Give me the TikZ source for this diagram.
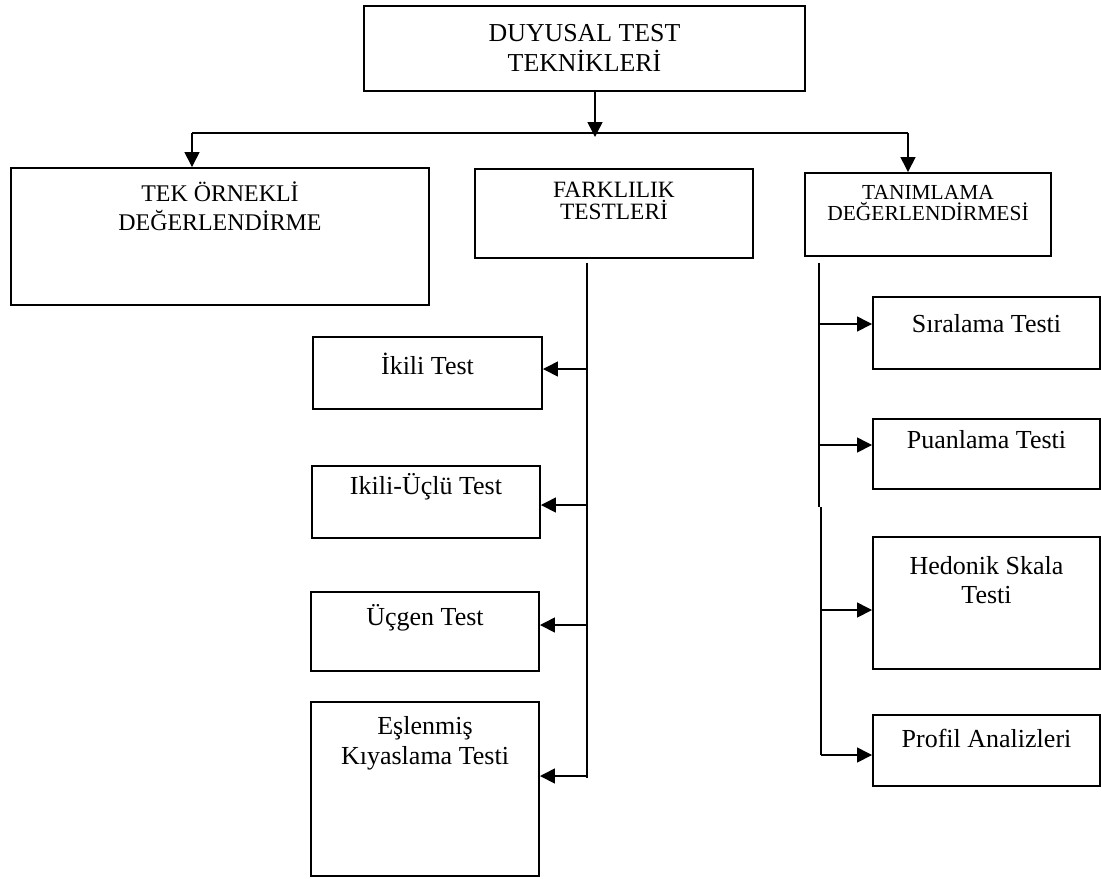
\documentclass[tikz,border=0pt]{standalone}
\usepackage{fontspec}
\setmainfont{Liberation Serif}
\usetikzlibrary{arrows.meta}
\tikzset{box/.style 2 args = {draw, line width = 1.1pt, inner sep = 0, minimum width = #1, minimum height = #2}}
\tikzset{lbl/.style = {anchor = center, align = center, inner sep = 0}}
\tikzset{fhead/.style = {font = \fontsize{14.7}{17}\selectfont}}
\tikzset{fmid/.style = {font = \fontsize{13.6}{16.4}\selectfont}}
\tikzset{fsub/.style = {font = \fontsize{13.3}{12.5}\selectfont}}
\tikzset{fsmall/.style = {font = \fontsize{12.2}{11.4}\selectfont}}
\tikzset{ftest/.style = {font = \fontsize{14.8}{17}\selectfont}}
\tikzset{line/.style = {line width = 0.85pt}}
\tikzset{arr/.style = {line width = 0.85pt, -{Triangle[length = 3mm, width = 3mm]}}}

\begin{document}
\begin{tikzpicture}[x = 0.2mm, y = -0.2mm]
    \useasboundingbox (0, 0) rectangle (1101, 878);

    \node[box = {88.2mm}{17mm}, label = {[lbl, fhead, yshift = -8.6mm]north:{DUYUSAL TEST\\TEKNİKLERİ}}] (tekn) at (584.5, 48.5) {};

    \node[box = {83.6mm}{27.4mm}, label = {[lbl, fmid, yshift = -7.9mm]north:{TEK ÖRNEKLİ\\DEĞERLENDİRME}}] (tek) at (220, 236.5) {};
    \node[box = {55.6mm}{17.8mm}, label = {[lbl, fsub, yshift = -6.6mm]north:{FARKLILIK\\TESTLERİ}}] (fark) at (614, 213.5) {};
    \node[box = {49.2mm}{16.6mm}, label = {[lbl, fsmall, yshift = -6.2mm]north:{TANIMLAMA\\DEĞERLENDİRMESİ}}] (tanim) at (928, 214.5) {};

    \node[box = {45.8mm}{14.4mm}, label = {[lbl, ftest, yshift = -5.6mm]north:{İkili Test}}] (ikili) at (427.5, 373) {};
    \node[box = {45.6mm}{14.4mm}, label = {[lbl, ftest, yshift = -4.4mm]north:{Ikili-Üçlü Test}}] (ikiliuclu) at (426, 502) {};
    \node[box = {45.6mm}{15.8mm}, label = {[lbl, ftest, yshift = -5.4mm]north:{Üçgen Test}}] (ucgen) at (425, 631.5) {};
    \node[box = {45.6mm}{34.8mm}, label = {[lbl, ftest, yshift = -8.4mm]north:{Eşlenmiş\\Kıyaslama Testi}}] (eslenmis) at (425, 789) {};

    \node[box = {45.4mm}{14.4mm}, label = {[lbl, ftest, yshift = -5.6mm]north:{Sıralama Testi}}] (siralama) at (986.5, 333) {};
    \node[box = {45.4mm}{14mm}, label = {[lbl, ftest, yshift = -4.4mm]north:{Puanlama Testi}}] (puanlama) at (986.5, 454) {};
    \node[box = {45.4mm}{26.4mm}, label = {[lbl, ftest, yshift = -8.8mm]north:{Hedonik Skala\\Testi}}] (hedonik) at (986.5, 603) {};
    \node[box = {45.4mm}{14.2mm}, label = {[lbl, ftest, yshift = -4.8mm]north:{Profil Analizleri}}] (profil) at (986.5, 750.5) {};

    \coordinate (busL) at (192, 133);
    \coordinate (busR) at (908, 133);
    \coordinate (busM) at (595, 137);
    \draw[arr] (tekn.south -| busM) -- (busM);
    \draw[line width = 1.2pt] (busL) -- (busR);
    \draw[arr] (busL) -- (busL |- tek.north);
    \draw[arr] (busR) -- (busR |- tanim.north);

    \coordinate (farkA) at (587, 263);
    \coordinate (farkB) at (587, 778);
    \draw[line] (farkA) -- (farkB);
    \foreach \n/\y in {ikili/369, ikiliuclu/505, ucgen/625, eslenmis/776} {
        \coordinate (p) at (587, \y);
        \draw[arr] (p) -- (p -| \n.east);
    }

    \coordinate (tanimA) at (819, 263);
    \coordinate (tanimB) at (819, 507);
    \coordinate (tanimC) at (821, 507);
    \coordinate (tanimD) at (821, 755);
    \draw[line width = 1.1pt] (tanimA) -- (tanimB);
    \draw[line] (tanimC) -- (tanimD);
    \foreach \n/\x/\y in {siralama/819/324, puanlama/819/445, hedonik/821/610, profil/821/755} {
        \coordinate (q) at (\x, \y);
        \draw[arr] (q) -- (q -| \n.west);
    }
\end{tikzpicture}
\end{document}
